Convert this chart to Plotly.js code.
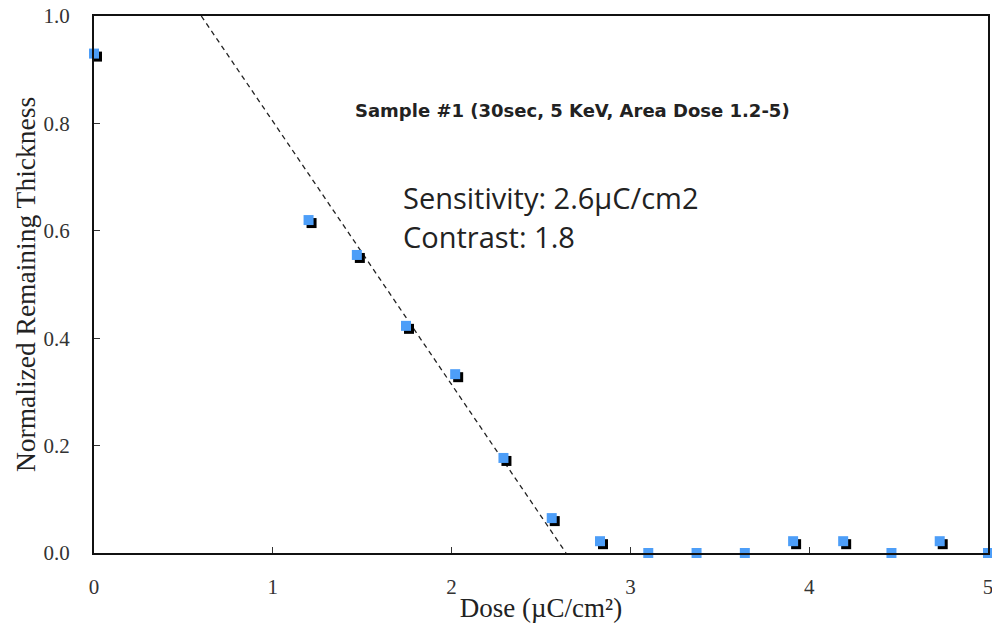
<!DOCTYPE html>
<html>
<head>
<meta charset="utf-8">
<script src="https://cdn.plot.ly/plotly-3.0.1.min.js"></script>
<style>html,body{margin:0;padding:0;background:#fff;}#chart{width:992px;height:625px;}</style>
</head>
<body>
<div id="chart"></div>
<script>
// Data
const dose = [0, 1.2, 1.47, 1.745, 2.02, 2.29, 2.56, 2.83, 3.1, 3.37, 3.64, 3.91, 4.19, 4.46, 4.73, 5.0];
const thickness = [0.93, 0.62, 0.555, 0.423, 0.333, 0.177, 0.065, 0.022, 0, 0, 0, 0.022, 0.022, 0, 0.022, 0];
const fitX = [0.6, 2.64];
const fitY = [1.0, 0.0];
const xTicks = [0, 1, 2, 3, 4, 5];
const yTicks = [0, 0.2, 0.4, 0.6, 0.8, 1.0];
const yTickText = ['0.0', '0.2', '0.4', '0.6', '0.8', '1.0'];
const titleText = 'Sample #1 (30sec, 5 KeV, Area Dose 1.2-5)';
const noteLines = ['Sensitivity: 2.6µC/cm2', 'Contrast: 1.8'];

const W = 992, H = 625;
const M = {l: 94, r: 4, t: 16, b: 72};
const plotW = W - M.l - M.r, plotH = H - M.t - M.b;
const xRange = [0, 5], yRange = [0, 1];
const shadowPx = 3;
const dx = shadowPx * (xRange[1] - xRange[0]) / plotW;
const dy = shadowPx * (yRange[1] - yRange[0]) / plotH;

const serif = 'Liberation Serif, Times New Roman, serif';

const traces = [
  {x: fitX, y: fitY, mode: 'lines', line: {color: '#222', width: 1.3, dash: '5px,4px'},
   hoverinfo: 'skip', showlegend: false, xaxis: 'x', yaxis: 'y'},
  // shadow squares (overlay axes shifted a few pixels right/down)
  {x: dose, y: thickness, mode: 'markers', marker: {symbol: 'square', size: 10, color: '#000'},
   cliponaxis: false, showlegend: false, xaxis: 'x2', yaxis: 'y2'},
  // blue squares on a top overlay with the true ranges
  {x: dose, y: thickness, mode: 'markers', marker: {symbol: 'square', size: 10, color: '#4d9ef8'},
   cliponaxis: false, showlegend: false, xaxis: 'x3', yaxis: 'y3'}
];

const tickFont = {family: serif, size: 21, color: '#333'};

const layout = {
  width: W, height: H,
  margin: M,
  paper_bgcolor: '#fff', plot_bgcolor: '#fff',
  showlegend: false,
  xaxis: {
    range: xRange, tickvals: xTicks, ticktext: xTicks.map(String),
    ticks: 'inside', ticklen: 6, tickwidth: 1, tickcolor: '#333',
    showline: true, linecolor: '#111', linewidth: 2, mirror: true,
    showgrid: false, zeroline: false,
    tickfont: tickFont, ticklabeloverflow: 'allow',
    ticklabelstandoff: 14,
    title: {text: 'Dose (µC/cm²)', font: {family: serif, size: 27, color: '#222'}, standoff: 0}
  },
  yaxis: {
    range: yRange, tickvals: yTicks, ticktext: yTickText,
    ticks: 'inside', ticklen: 6, tickwidth: 1, tickcolor: '#333',
    showline: true, linecolor: '#111', linewidth: 2, mirror: true,
    showgrid: false, zeroline: false,
    tickfont: tickFont, ticklabeloverflow: 'allow',
    ticklabelstandoff: 18,
    title: {text: 'Normalized Remaining Thickness', font: {family: serif, size: 27.5, color: '#222'}, standoff: 0}
  },
  xaxis2: {range: [xRange[0] - dx, xRange[1] - dx], overlaying: 'x', visible: false, anchor: 'y2'},
  yaxis2: {range: [yRange[0] + dy, yRange[1] + dy], overlaying: 'y', visible: false, anchor: 'x2'},
  xaxis3: {range: xRange, overlaying: 'x', visible: false, anchor: 'y3'},
  yaxis3: {range: yRange, overlaying: 'y', visible: false, anchor: 'x3'},
  annotations: [
    {xref: 'paper', yref: 'paper', x: (572 - M.l) / plotW, y: (553 - 110) / plotH, xanchor: 'center', yanchor: 'middle',
     text: '<b>' + titleText + '</b>', showarrow: false,
     font: {family: 'DejaVu Sans, Verdana, sans-serif', size: 18, color: '#222'}},
    {xref: 'paper', yref: 'paper', x: (401 - M.l) / plotW, y: (553 - 197) / plotH, xanchor: 'left', yanchor: 'middle',
     text: noteLines[0], showarrow: false,
     font: {family: 'Open Sans, sans-serif', size: 29, color: '#222'}},
    {xref: 'paper', yref: 'paper', x: (401 - M.l) / plotW, y: (553 - 236) / plotH, xanchor: 'left', yanchor: 'middle',
     text: noteLines[1], showarrow: false,
     font: {family: 'Open Sans, sans-serif', size: 29, color: '#222'}}
  ]
};

Plotly.newPlot('chart', traces, layout, {displayModeBar: false, staticPlot: true});
</script>
</body>
</html>
